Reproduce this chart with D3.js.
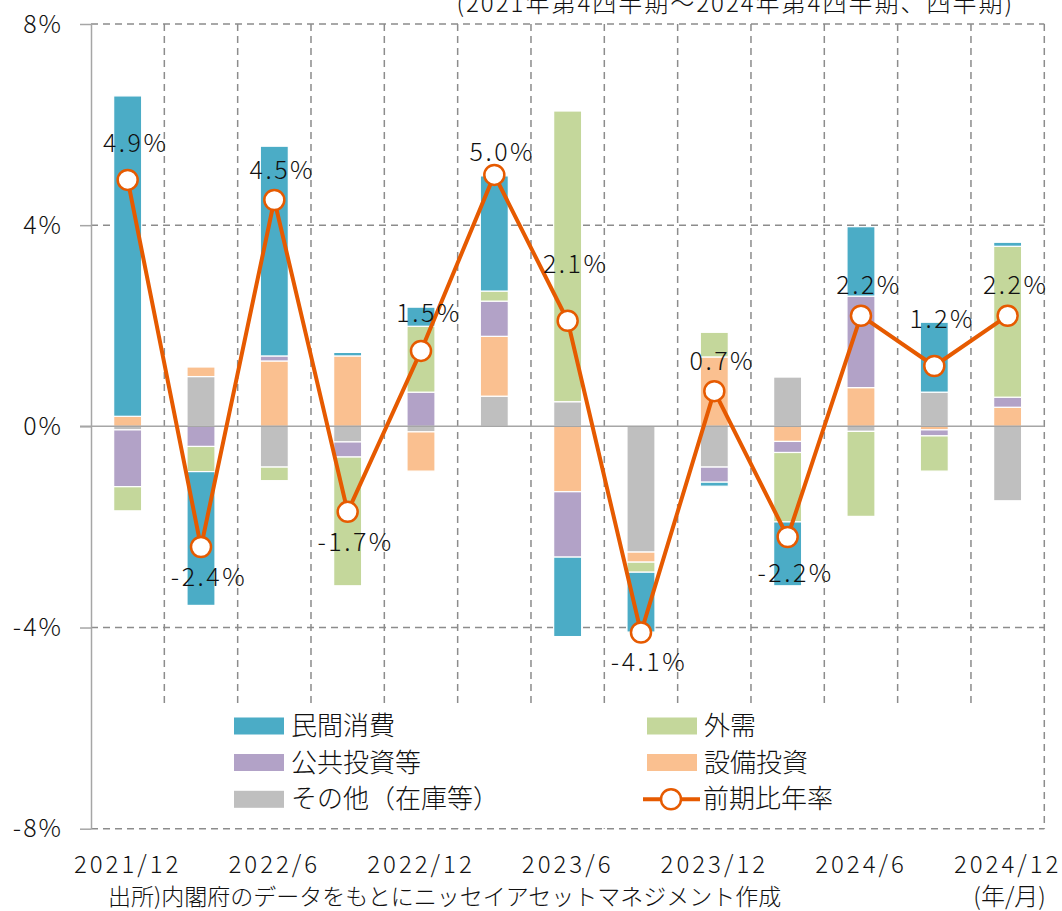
<!DOCTYPE html>
<html>
<head>
<meta charset="utf-8">
<script src="https://cdn.jsdelivr.net/npm/d3@7"></script>
<style>
  body { margin: 0; background: #fff; }
  svg { display: block; font-family: "Noto Sans CJK JP", "Noto Sans", sans-serif; font-weight: 300; }
</style>
</head>
<body>
<svg id="chart"></svg>
<script>
// 四半期（2021/12〜2024/12）
const quarters = ["2021/12", "2022/3", "2022/6", "2022/9", "2022/12", "2023/3", "2023/6",
                  "2023/9", "2023/12", "2024/3", "2024/6", "2024/9", "2024/12"];

// 寄与度（%ポイント）
const sonota  = [-0.07, 0.99, -0.81, -0.31, -0.11, 0.60, 0.49, -2.50, -0.81, 0.98, -0.10, 0.68, -1.48];
const setsubi = [0.20, 0.19, 1.30, 1.40, -0.78, 1.19, -1.30, -0.20, 1.38, -0.30, 0.77, -0.07, 0.38];
const koukyou = [-1.13, -0.40, 0.10, -0.30, 0.68, 0.70, -1.30, 0.00, -0.30, -0.22, 1.82, -0.12, 0.20];
const gaiju   = [-0.48, -0.50, -0.27, -2.56, 1.31, 0.20, 5.78, -0.20, 0.49, -1.38, -1.69, -0.70, 3.00];
const minkan  = [6.37, -2.66, 4.17, 0.07, 0.38, 2.29, -1.58, -1.19, -0.08, -1.27, 1.38, 1.39, 0.08];

// 前期比年率（%）
const growth = [4.9, -2.4, 4.5, -1.7, 1.5, 5.0, 2.1, -4.1, 0.7, -2.2, 2.2, 1.2, 2.2];

const yTicks = [-8, -4, 0, 4, 8];

var keys = ["sonota", "setsubi", "koukyou", "gaiju", "minkan"];
var colors = {
    minkan: "#4bacc6",
    koukyou: "#b2a2c7",
    sonota: "#bfbfbf",
    gaiju: "#c4d79b",
    setsubi: "#fac090"
};
var names = {
    minkan: "民間消費",
    koukyou: "公共投資等",
    sonota: "その他（在庫等）",
    gaiju: "外需",
    setsubi: "設備投資"
};
var lineColor = "#e65a00";
var gridColor = "#8c8c8c";
var textColor = "#111";

var table = quarters.map(function(q, i) {
    return { q: q, sonota: sonota[i], setsubi: setsubi[i], koukyou: koukyou[i],
             gaiju: gaiju[i], minkan: minkan[i], growth: growth[i] };
});

var svgWidth = 1062, svgHeight = 911;
var plot = { left: 91, right: 1044.3, top: 24, bottom: 828.7 };

var svg = d3.select("#chart")
    .attr("width", svgWidth)
    .attr("height", svgHeight);

var x = d3.scaleBand().domain(quarters).range([plot.left, plot.right]);
var y = d3.scaleLinear().domain([-8, 8]).range([plot.bottom, plot.top]);
var barW = 28;

// grid
var grid = svg.append("g");
grid.selectAll(".hgrid")
    .data(yTicks.filter(function(d) { return d !== 0; }))
    .enter().append("line")
    .attr("x1", plot.left).attr("x2", plot.right)
    .attr("y1", function(d) { return y(d); })
    .attr("y2", function(d) { return y(d); })
    .attr("stroke", gridColor)
    .attr("stroke-width", 1.5)
    .attr("stroke-dasharray", "7,5");

grid.selectAll(".vgrid")
    .data(quarters)
    .enter().append("line")
    .attr("x1", function(d) { return x(d) + x.bandwidth(); })
    .attr("x2", function(d) { return x(d) + x.bandwidth(); })
    .attr("y1", plot.top).attr("y2", plot.bottom)
    .attr("stroke", gridColor)
    .attr("stroke-width", 1.5)
    .attr("stroke-dasharray", "7,5");

// bars
var series = d3.stack()
    .keys(keys)
    .offset(d3.stackOffsetDiverging)(table);

svg.append("g")
    .selectAll("g")
    .data(series)
    .enter().append("g")
    .attr("fill", function(s) { return colors[s.key]; })
    .selectAll("rect")
    .data(function(s) { return s; })
    .enter().append("rect")
    .attr("x", function(d) { return x(d.data.q) + x.bandwidth() / 2 - barW / 2; })
    .attr("width", barW)
    .attr("y", function(d) { return y(Math.max(d[0], d[1])); })
    .attr("height", function(d) { return Math.abs(y(d[0]) - y(d[1])); })
    .attr("stroke", "#fff")
    .attr("stroke-width", 1.2);

// legend box (hides the grid)
svg.append("rect")
    .attr("x", 100).attr("y", 704)
    .attr("width", 900).attr("height", 122)
    .attr("fill", "#fff");

// zero line
svg.append("line")
    .attr("x1", plot.left - 11).attr("x2", plot.right)
    .attr("y1", y(0)).attr("y2", y(0))
    .attr("stroke", "#a6a6a6")
    .attr("stroke-width", 1.5);

// y axis
var yAxis = svg.append("g")
    .attr("transform", "translate(" + plot.left + ",0)")
    .call(d3.axisLeft(y).tickValues(yTicks).tickSize(11).tickSizeOuter(0).tickPadding(17)
          .tickFormat(function(d) { return d + "%"; }));
yAxis.attr("font-family", null).attr("font-size", null);
yAxis.select(".domain").attr("stroke", "#a6a6a6").attr("stroke-width", 1.5);
yAxis.selectAll(".tick line").attr("stroke", "#a6a6a6").attr("stroke-width", 1.5);
yAxis.selectAll("text").attr("font-size", 25).attr("letter-spacing", 2).attr("fill", textColor);

// x axis
var xAxis = svg.append("g")
    .attr("transform", "translate(0," + plot.bottom + ")")
    .call(d3.axisBottom(x).tickSize(0).tickPadding(27)
          .tickFormat(function(d, i) { return i % 2 === 0 ? d : ""; }));
xAxis.attr("font-family", null).attr("font-size", null);
xAxis.select(".domain").remove();
xAxis.selectAll("text").attr("font-size", 24).attr("letter-spacing", 3).attr("fill", textColor);

// growth line
var line = d3.line()
    .x(function(d) { return x(d.q) + x.bandwidth() / 2; })
    .y(function(d) { return y(d.growth); });

svg.append("path")
    .datum(table)
    .attr("fill", "none")
    .attr("stroke", lineColor)
    .attr("stroke-width", 4)
    .attr("stroke-linejoin", "round")
    .attr("d", line);

svg.append("g")
    .selectAll("circle")
    .data(table)
    .enter().append("circle")
    .attr("cx", function(d) { return x(d.q) + x.bandwidth() / 2; })
    .attr("cy", function(d) { return y(d.growth); })
    .attr("r", 10)
    .attr("fill", "#fff")
    .attr("stroke", lineColor)
    .attr("stroke-width", 2.5);

// label placement tweaks (px), as hand-placed in the original
var labelNudge = { "2021/12": -7, "2023/3": 7, "2023/6": -26, "2024/9": -17, "2022/12": -8, "2024/3": -6 };

svg.append("g")
    .selectAll("text")
    .data(table)
    .enter().append("text")
    .attr("x", function(d) { return x(d.q) + x.bandwidth() / 2 + 8; })
    .attr("y", function(d) {
        return y(d.growth) + (d.growth >= 0 ? -30 : 30) + (labelNudge[d.q] || 0) * (d.growth >= 0 ? 1 : -1);
    })
    .attr("dy", "0.35em")
    .attr("text-anchor", "middle")
    .attr("font-size", 25)
    .attr("letter-spacing", 2.5)
    .attr("fill", textColor)
    .text(function(d) { return d.growth.toFixed(1) + "%"; });

// legend
var legendItems = [
    { key: "minkan", col: 0, row: 0 },
    { key: "koukyou", col: 0, row: 1 },
    { key: "sonota", col: 0, row: 2 },
    { key: "gaiju", col: 1, row: 0 },
    { key: "setsubi", col: 1, row: 1 }
];
var colX = [234, 647];
var rowY = [726, 762.5, 799.3];

var lg = svg.append("g");
legendItems.forEach(function(it) {
    lg.append("rect")
        .attr("x", colX[it.col]).attr("y", rowY[it.row] - 8.5)
        .attr("width", 50).attr("height", 17)
        .attr("fill", colors[it.key]);
    lg.append("text")
        .attr("x", colX[it.col] + 57).attr("y", rowY[it.row])
        .attr("dy", "0.35em")
        .attr("font-size", 26)
        .attr("fill", textColor)
        .text(names[it.key]);
});
lg.append("line")
    .attr("x1", 643).attr("x2", 700)
    .attr("y1", rowY[2]).attr("y2", rowY[2])
    .attr("stroke", lineColor).attr("stroke-width", 4);
lg.append("circle")
    .attr("cx", 671).attr("cy", rowY[2]).attr("r", 10)
    .attr("fill", "#fff").attr("stroke", lineColor).attr("stroke-width", 2.5);
lg.append("text")
    .attr("x", 703).attr("y", rowY[2])
    .attr("dy", "0.35em")
    .attr("font-size", 26)
    .attr("fill", textColor)
    .text("前期比年率");

// subtitle / notes
svg.append("text")
    .attr("x", 1014).attr("y", 12)
    .attr("text-anchor", "end")
    .attr("font-size", 24)
    .attr("letter-spacing", 2)
    .attr("fill", textColor)
    .text("(2021年第4四半期～2024年第4四半期、四半期)");

svg.append("text")
    .attr("x", 108).attr("y", 905)
    .attr("font-size", 23)
    .attr("fill", textColor)
    .text("出所)内閣府のデータをもとにニッセイアセットマネジメント作成");

svg.append("text")
    .attr("x", x("2024/12") + x.bandwidth() / 2 + 2).attr("y", 905)
    .attr("text-anchor", "middle")
    .attr("font-size", 24)
    .attr("fill", textColor)
    .text("(年/月)");
</script>
</body>
</html>
